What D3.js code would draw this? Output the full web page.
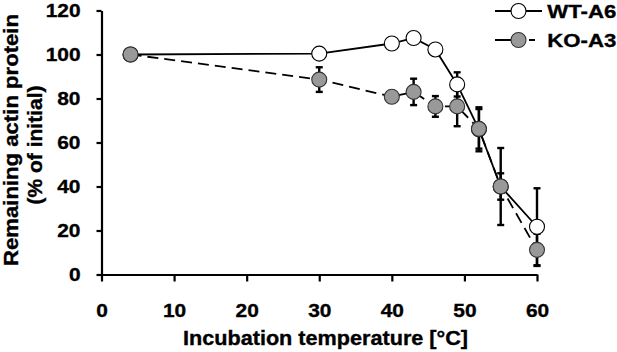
<!DOCTYPE html>
<html>
<head>
<meta charset="utf-8">
<script src="https://d3js.org/d3.v7.min.js"></script>
<style>
  html, body { margin: 0; padding: 0; background: #fff; }
  svg { display: block; }
  text { font-family: "Liberation Sans", Arial, sans-serif; font-weight: bold; fill: #000; stroke: #000; stroke-width: 0.35px; }
</style>
</head>
<body>
<svg id="chart" width="617" height="352"></svg>
<script>
// ---- data ----
const temps = [4, 30, 40, 43, 46, 49, 52, 55, 60];
const wtValues = [100, 100.4, 105, 107.5, 102.3, 86.4, 66, 40, 21.7];
const wtErrors = [0, 0, 0, 0, 0, 5.5, 10, 6, 17.5];
const koValues = [100, 88.6, 80.8, 83, 76.4, 76.4, 66.2, 40, 11.2];
const koErrors = [0, 5.6, 0, 6, 4.7, 9, 9, 17.5, 7.3];
const xTicks = [0, 10, 20, 30, 40, 50, 60];
const yTicks = [0, 20, 40, 60, 80, 100, 120];
const seriesNames = ["WT-A6", "KO-A3"];

const svg = d3.select("#chart");
const x = d3.scaleLinear().domain([0, 60]).range([101.5, 537]);
const y = d3.scaleLinear().domain([0, 120]).range([274.5, 10.5]);

// axes
const xAxis = svg.append("g").attr("transform", `translate(0,${y(0)})`)
  .call(d3.axisBottom(x).tickValues(xTicks).tickSize(7).tickSizeOuter(0).tickPadding(22));
const yAxis = svg.append("g").attr("transform", `translate(${x(0)},0)`)
  .call(d3.axisLeft(y).tickValues(yTicks).tickSize(5).tickSizeOuter(0).tickPadding(16));
[xAxis, yAxis].forEach(g => {
  g.select(".domain").attr("stroke", "#000").attr("stroke-width", 2.2);
  g.selectAll(".tick line").attr("stroke", "#000").attr("stroke-width", 2.2);
  g.selectAll(".tick text")
    .style("font-size", "19px").style("font-family", '"Liberation Sans", Arial, sans-serif').style("font-weight", "bold")
    .attr("fill", "#000")
    .each(function () {
      const w = this.getComputedTextLength();
      d3.select(this).attr("textLength", w * 1.1).attr("lengthAdjust", "spacingAndGlyphs");
    });
});

// axis titles
svg.append("text").attr("x", 325.5).attr("y", 345).attr("text-anchor", "middle")
  .style("font-size", "20px").attr("textLength", 285).attr("lengthAdjust", "spacingAndGlyphs")
  .text("Incubation temperature [°C]");
svg.append("text").attr("transform", "translate(17.5,140) rotate(-90)").attr("text-anchor", "middle")
  .style("font-size", "20px").attr("textLength", 252).attr("lengthAdjust", "spacingAndGlyphs")
  .text("Remaining actin protein");
svg.append("text").attr("transform", "translate(42,145) rotate(-90)").attr("text-anchor", "middle")
  .style("font-size", "20px").attr("textLength", 119).attr("lengthAdjust", "spacingAndGlyphs")
  .text("(% of initial)");

const wt = temps.map((t, i) => ({ t, v: wtValues[i], e: wtErrors[i] }));
const ko = temps.map((t, i) => ({ t, v: koValues[i], e: koErrors[i] }));

// error bars
function errorBars(data) {
  const g = svg.append("g").attr("stroke", "#000").attr("stroke-width", 2.4);
  data.filter(d => d.e > 0).forEach(d => {
    g.append("line").attr("x1", x(d.t)).attr("x2", x(d.t)).attr("y1", y(d.v - d.e)).attr("y2", y(d.v + d.e));
    [d.v - d.e, d.v + d.e].forEach(val => {
      g.append("line").attr("x1", x(d.t) - 3.5).attr("x2", x(d.t) + 3.5).attr("y1", y(val)).attr("y2", y(val));
    });
  });
}
errorBars(wt);
errorBars(ko);

const line = d3.line().x(d => x(d.t)).y(d => y(d.v));
svg.append("path").datum(wt).attr("d", line).attr("fill", "none").attr("stroke", "#000").attr("stroke-width", 1.8);
svg.append("path").datum(ko).attr("d", line).attr("fill", "none").attr("stroke", "#000").attr("stroke-width", 1.8).attr("stroke-dasharray", "11,6");

svg.append("g").selectAll("circle").data(wt).join("circle")
  .attr("cx", d => x(d.t)).attr("cy", d => y(d.v)).attr("r", 7.5)
  .attr("fill", "#fff").attr("stroke", "#000").attr("stroke-width", 1.1);
svg.append("g").selectAll("circle").data(ko).join("circle")
  .attr("cx", d => x(d.t)).attr("cy", d => y(d.v)).attr("r", 7.5)
  .attr("fill", "#999").attr("stroke", "#333").attr("stroke-width", 1.1);

// legend
const legend = svg.append("g");
const legY = [11, 40];
const fills = ["#fff", "#999"];
const dashes = [null, "16,18,6,20"];
seriesNames.forEach((name, i) => {
  legend.append("line").attr("x1", 495).attr("x2", 542).attr("y1", legY[i]).attr("y2", legY[i])
    .attr("stroke", "#000").attr("stroke-width", 1.8).attr("stroke-dasharray", dashes[i]);
  legend.append("circle").attr("cx", 518.5).attr("cy", legY[i]).attr("r", 7.5)
    .attr("fill", fills[i]).attr("stroke", i ? "#333" : "#000").attr("stroke-width", 1.1);
  legend.append("text").attr("x", 547.3).attr("y", legY[i] + 6.5)
    .style("font-size", "19px").attr("textLength", 69).attr("lengthAdjust", "spacingAndGlyphs")
    .text(name);
});
</script>
</body>
</html>
